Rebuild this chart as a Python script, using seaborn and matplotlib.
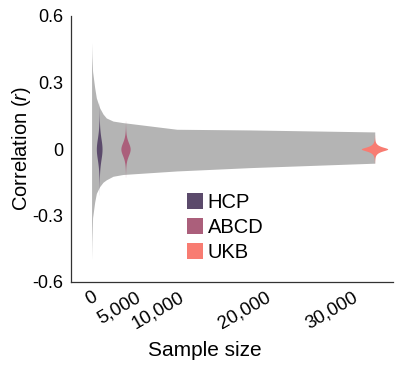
import numpy as np
import pandas as pd
import matplotlib
matplotlib.use("Agg")
import matplotlib.pyplot as plt
import seaborn as sns
from matplotlib.patches import Patch

# ---- data -------------------------------------------------------------
# grey band: range of correlations as a function of sample size
band_n = [25, 60, 140, 380, 575, 950, 1340, 1720, 2490, 3640, 9840, 18250, 32600]
band_upper = [0.48, 0.42, 0.35, 0.277, 0.23, 0.186, 0.158, 0.14, 0.126, 0.119, 0.089, 0.086, 0.077]
band_lower = [-0.50, -0.42, -0.31, -0.24, -0.20, -0.17, -0.15, -0.139, -0.123, -0.115, -0.099, -0.084, -0.064]

# violins: distribution of correlations in each dataset
datasets = ["HCP", "ABCD", "UKB"]
sample_sizes = [900, 3928, 32572]
r_scale = [0.031, 0.019, 0.0105]
r_shape = ["logistic", "logistic", "laplace"]
colors = ["#5b4a6b", "#ab5f7b", "#f87c72"]

x_ticks = [0, 5000, 10000, 20000, 30000]
x_tick_labels = ["0", "5,000", "10,000", "20,000", "30,000"]
y_ticks = [-0.6, -0.3, 0, 0.3, 0.6]
y_tick_labels = ["-0.6", "-0.3", "0", "0.3", "0.6"]

# ---- build distribution table (deterministic quantile grid) ----------
N = 400
p = (np.arange(N) + 0.5) / N
rows = []
for name, n, s, shape in zip(datasets, sample_sizes, r_scale, r_shape):
    if shape == "logistic":
        q = s * np.log(p / (1 - p))
    else:
        q = -s * np.sign(p - 0.5) * np.log(1 - 2 * np.abs(p - 0.5))
    for v in q:
        rows.append((name, n, v))
df = pd.DataFrame(rows, columns=["dataset", "n", "r"])

# ---- plot ---------------------------------------------------------------
sns.set_style("white")
plt.rcParams["font.family"] = ["Liberation Sans", "DejaVu Sans"]
plt.rcParams["mathtext.fontset"] = "custom"
plt.rcParams["mathtext.rm"] = "Liberation Sans"
plt.rcParams["mathtext.it"] = "Liberation Sans:italic"
plt.rcParams["text.color"] = "black"
plt.rcParams["axes.labelcolor"] = "black"

fig = plt.figure(figsize=(3.98, 3.65), dpi=100)
ax = fig.add_axes([70.5 / 398, 83 / 365, 322.5 / 398, 266 / 365])

ax.fill_between(band_n, band_lower, band_upper, color="#b4b4b4", linewidth=0, zorder=1)

sns.violinplot(data=df, x="n", y="r", hue="dataset", hue_order=datasets,
               palette=colors, native_scale=True, orient="x",
               density_norm="area", common_norm=True, cut=0, inner=None,
               linewidth=0, width=1.0, dodge=False, saturation=1,
               legend=False, ax=ax)
for c in ax.collections[1:]:
    c.set_zorder(2)

ax.set_xlim(-2400, 34700)
ax.set_ylim(-0.6, 0.6)
ax.set_xticks(x_ticks)
ax.set_xticklabels(x_tick_labels, rotation=30, ha="right", va="top",
                   rotation_mode="anchor", fontsize=13.5)
ax.set_yticks(y_ticks)
ax.set_yticklabels(y_tick_labels, fontsize=13)

for side in ["top", "right"]:
    ax.spines[side].set_visible(False)
for side in ["left", "bottom"]:
    ax.spines[side].set_color("#333333")
    ax.spines[side].set_linewidth(0.9)
ax.tick_params(axis="both", direction="out", length=3, width=0.8,
               color="#333333", labelcolor="black", pad=2)

ax.set_xlabel("Sample size", fontsize=15, color="black")
ax.xaxis.set_label_coords((205 - 70.5) / 322.5, -0.222)
ax.set_ylabel("Correlation ($\\it{r}$)", fontsize=14.5, color="black", labelpad=0)

handles = [Patch(facecolor=c, edgecolor="none", label=d) for d, c in zip(datasets, colors)]
fig.legend(handles=handles, loc="upper left", bbox_to_anchor=(186.5 / 398, 1 - 193 / 365),
           frameon=False, fontsize=14.5, handlelength=0.8, handleheight=0.8,
           handletextpad=0.25, labelspacing=0.3, borderpad=0, borderaxespad=0,
           labelcolor="black")

fig.savefig("out.png", dpi=100)
